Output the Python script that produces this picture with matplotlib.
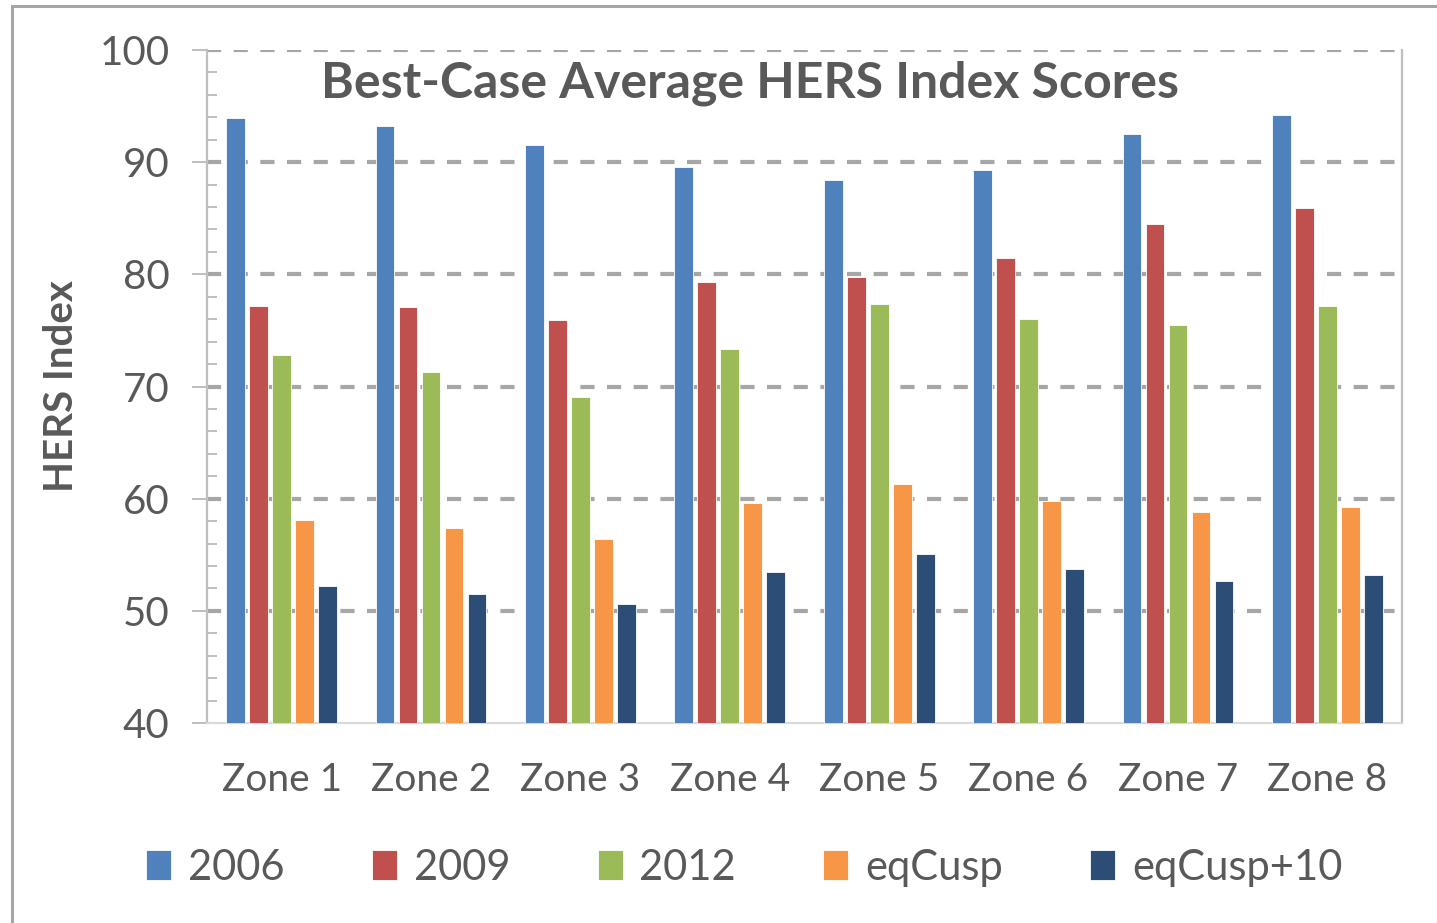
import matplotlib.pyplot as plt
from matplotlib.patches import Rectangle
from matplotlib.ticker import MultipleLocator
import numpy as np

zones = ["Zone 1", "Zone 2", "Zone 3", "Zone 4", "Zone 5", "Zone 6", "Zone 7", "Zone 8"]
hers_2006 = [93.9, 93.2, 91.5, 89.6, 88.4, 89.3, 92.5, 94.2]
hers_2009 = [77.2, 77.1, 75.9, 79.3, 79.8, 81.5, 84.5, 85.9]
hers_2012 = [72.8, 71.3, 69.1, 73.3, 77.4, 76.0, 75.5, 77.2]
eqcusp = [58.1, 57.4, 56.4, 59.6, 61.3, 59.8, 58.8, 59.3]
eqcusp_10 = [52.2, 51.5, 50.6, 53.5, 55.1, 53.7, 52.7, 53.2]

series = [("2006", hers_2006, "#4F81BD"),
          ("2009", hers_2009, "#C0504D"),
          ("2012", hers_2012, "#9BBB59"),
          ("eqCusp", eqcusp, "#F79646"),
          ("eqCusp+10", eqcusp_10, "#2C4D75")]

plt.rcParams['font.family'] = ['Lato', 'DejaVu Sans']
text_color = "#595959"
grid_color = "#A6A6A6"

fig = plt.figure(figsize=(14.37, 9.23), dpi=100)
ax = fig.add_axes([0.1441, 0.2167, 0.8315, 0.7291])

# outer chart border
fig.patches.append(Rectangle((0.0084, -0.05), 1.1, 1.0435, transform=fig.transFigure,
                             fill=False, edgecolor=grid_color, linewidth=2.2))

x = np.arange(len(zones))
step = 0.154
for j, (name, vals, color) in enumerate(series):
    ax.bar(x + (j - 2) * step, np.array(vals) - 40, bottom=40, width=0.125,
           color=color, label=name, zorder=3, edgecolor="white", linewidth=0.6)

ax.set_xlim(-0.5, len(zones) - 0.5)
ax.set_ylim(40, 100)
ax.yaxis.set_major_locator(MultipleLocator(10))
ax.yaxis.set_minor_locator(MultipleLocator(2))
ax.set_xticks(x)
ax.set_xticklabels(zones)

# dashed gridlines, skipping the one on the bottom axis
for yv in ax.get_yticks():
    if 40 < yv <= 100:
        ax.axhline(yv, color=grid_color, linewidth=3, dashes=(3.4, 3), zorder=1)

for side in ["left", "bottom", "right"]:
    ax.spines[side].set_color("#BFBFBF")
    ax.spines[side].set_linewidth(1.6)
ax.spines["top"].set_visible(False)
ax.spines["bottom"].set_color("#D9D9D9")

ax.tick_params(axis="y", which="major", direction="out", length=11, width=1.4,
               color="#BFBFBF", labelsize=29, labelcolor=text_color, pad=16)
ax.tick_params(axis="y", which="minor", direction="in", length=7, width=1.4, color="#BFBFBF")
ax.tick_params(axis="x", length=0, labelsize=28, labelcolor=text_color, pad=28)

ax.set_ylabel("HERS Index", fontsize=29, fontweight="bold", color=text_color, labelpad=14)
ax.text(0.454, 0.985, "Best-Case Average HERS Index Scores", transform=ax.transAxes,
        ha="center", va="top", fontsize=36, fontweight="bold", color=text_color)

fig.legend(loc="center", bbox_to_anchor=(0.518, 0.06), ncol=5, frameon=False,
           fontsize=30, labelcolor=text_color, handlelength=0.6, handleheight=0.7,
           handletextpad=0.4, columnspacing=2.1)

fig.savefig("out.png", dpi=100, facecolor="white")
